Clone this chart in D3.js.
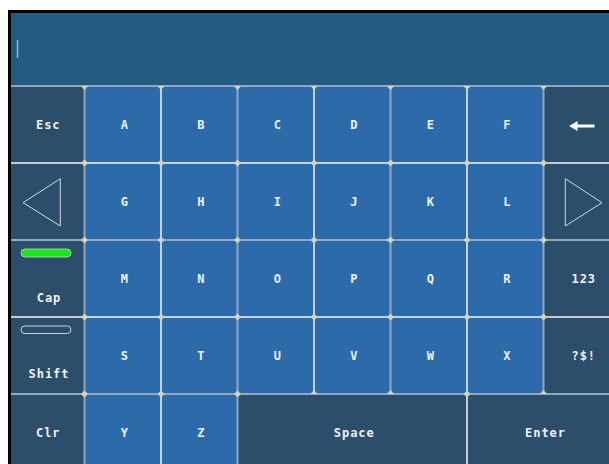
<!DOCTYPE html>
<html>
<head>
<meta charset="utf-8">
<script src="https://cdn.jsdelivr.net/npm/d3@7"></script>
<style>
  body { margin: 0; background: #fff; }
  svg { display: block; }
  text { font-family: "DejaVu Sans Mono", monospace; font-weight: bold; font-size: 12px; fill: #eef2f6; letter-spacing: 1px; }
</style>
</head>
<body>
<div id="chart"></div>
<script>
const width = 609;
const height = 464;

// key layout, row by row
const row0 = ["Esc", "A", "B", "C", "D", "E", "F", "back"];
const row1 = ["left", "G", "H", "I", "J", "K", "L", "right"];
const row2 = ["Cap", "M", "N", "O", "P", "Q", "R", "123"];
const row3 = ["Shift", "S", "T", "U", "V", "W", "X", "?$!"];
const row4 = ["Clr", "Y", "Z", "Space", "Enter"];
const row4Spans = [1, 1, 1, 3, 2];
const keyRows = [row0, row1, row2, row3, row4];

const colors = {
  display: "#245b80",
  dark: "#2d4e6b",
  letter: "#2d6aaa",
  gridGrey: "#8fa7c2",
  gridWhite: "#f4f6f8",
  node: "#d8d3b6"
};

const svg = d3.select("#chart")
  .append("svg")
  .attr("width", width)
  .attr("height", height);

const x = d3.scaleBand().domain(d3.range(8)).range([8, 620]);
const y = d3.scaleBand().domain(d3.range(5)).range([86, 471]);
const bw = x.bandwidth();
const bh = y.bandwidth();

// display area
svg.append("rect").attr("x", 8).attr("y", 10).attr("width", width).attr("height", 76).attr("fill", colors.display);
svg.append("line").attr("x1", 17.5).attr("x2", 17.5).attr("y1", 40).attr("y2", 58)
  .attr("stroke", "#9db4c9").attr("stroke-width", 1.5);

// build key cells
const cells = [];
keyRows.forEach((row, r) => {
  let c = 0;
  row.forEach((label, i) => {
    const span = r === 4 ? row4Spans[i] : 1;
    const isLetter = /^[A-Z]$/.test(label);
    cells.push({ label, r, c, span, isLetter });
    c += span;
  });
});

const keys = svg.selectAll("g.key")
  .data(cells)
  .enter()
  .append("g")
  .attr("class", "key")
  .attr("transform", d => `translate(${x(d.c)},${y(d.r)})`);

keys.append("rect")
  .attr("width", d => bw * d.span)
  .attr("height", bh)
  .attr("fill", d => d.isLetter ? colors.letter : colors.dark);

const special = ["back", "left", "right", "Cap", "Shift"];
keys.filter(d => !special.includes(d.label))
  .append("text")
  .attr("x", d => bw * d.span / 2 + 2)
  .attr("y", d => bh / 2 + 4)
  .attr("text-anchor", "middle")
  .text(d => d.label);

// Cap and Shift
const capKey = keys.filter(d => d.label === "Cap");
capKey.append("rect").attr("x", 13).attr("y", 9).attr("width", 50).attr("height", 8).attr("rx", 4)
  .attr("fill", "#1fe01f").attr("stroke", "#b9e6b9").attr("stroke-width", 0.8);
capKey.append("text").attr("x", 41).attr("y", 62).attr("text-anchor", "middle").text("Cap");

const shiftKey = keys.filter(d => d.label === "Shift");
shiftKey.append("rect").attr("x", 13).attr("y", 9).attr("width", 50).attr("height", 7.5).attr("rx", 3.75)
  .attr("fill", colors.dark).attr("stroke", "#c8d2dc").attr("stroke-width", 1);
shiftKey.append("text").attr("x", 41).attr("y", 61).attr("text-anchor", "middle").attr("letter-spacing", "2px").text("Shift");

// arrows
keys.filter(d => d.label === "left").append("path")
  .attr("d", "M15,39.7L52.3,15.7L52.3,63Z")
  .attr("fill", "none").attr("stroke", "#d0dae4").attr("stroke-width", 1);
keys.filter(d => d.label === "right").append("path")
  .attr("d", "M21.8,15.7L58.5,39.7L21.8,63Z")
  .attr("fill", "none").attr("stroke", "#d0dae4").attr("stroke-width", 1);
const back = keys.filter(d => d.label === "back");
back.append("path").attr("d", "M25.5,40L34,35L34,45Z").attr("fill", "#ffffff");
back.append("line").attr("x1", 32).attr("x2", 51).attr("y1", 40).attr("y2", 40)
  .attr("stroke", "#ffffff").attr("stroke-width", 3);

// grid lines
const hLines = [
  { r: 0, color: colors.gridGrey, w: 2 },
  { r: 1, color: colors.gridWhite, w: 1.5 },
  { r: 2, color: colors.gridGrey, w: 2 },
  { r: 3, color: colors.gridWhite, w: 1.5 },
  { r: 4, color: colors.gridGrey, w: 2 }
];
svg.selectAll("line.h")
  .data(hLines)
  .enter()
  .append("line")
  .attr("x1", 11).attr("x2", width)
  .attr("y1", d => y(d.r)).attr("y2", d => y(d.r))
  .attr("stroke", d => d.color).attr("stroke-width", d => d.w);

const vLines = [
  { c: 1, color: colors.gridGrey, w: 2, rows: 5 },
  { c: 2, color: colors.gridWhite, w: 1.5, rows: 5 },
  { c: 3, color: colors.gridGrey, w: 2, rows: 5 },
  { c: 4, color: colors.gridWhite, w: 1.5, rows: 4 },
  { c: 5, color: colors.gridGrey, w: 2, rows: 4 },
  { c: 6, color: colors.gridWhite, w: 1.5, rows: 5 },
  { c: 7, color: colors.gridGrey, w: 2, rows: 4 }
];
svg.selectAll("line.v")
  .data(vLines)
  .enter()
  .append("line")
  .attr("x1", d => x(d.c)).attr("x2", d => x(d.c))
  .attr("y1", y(0)).attr("y2", d => d.rows === 5 ? height : y(4))
  .attr("stroke", d => d.color).attr("stroke-width", d => d.w);

// junction markers
const nodes = [];
vLines.forEach(v => {
  nodes.push({ x: x(v.c), y: y(0), shape: "down" });
  for (let r = 1; r <= 4; r++) {
    nodes.push({ x: x(v.c), y: y(r), shape: (r === 4 && v.rows === 4) ? "up" : "diamond" });
  }
});
const nodeShape = {
  diamond: "M0,-3.5L3.5,0L0,3.5L-3.5,0Z",
  down: "M-3.5,0L3.5,0L0,4Z",
  up: "M-3.5,0L3.5,0L0,-4Z"
};
svg.selectAll("path.node")
  .data(nodes)
  .enter()
  .append("path")
  .attr("transform", d => `translate(${d.x},${d.y})`)
  .attr("d", d => nodeShape[d.shape])
  .attr("fill", colors.node);

// black frame
svg.append("rect").attr("x", 8).attr("y", 10).attr("width", width).attr("height", 3).attr("fill", "#000");
svg.append("rect").attr("x", 8).attr("y", 10).attr("width", 3).attr("height", height).attr("fill", "#000");
</script>
</body>
</html>
